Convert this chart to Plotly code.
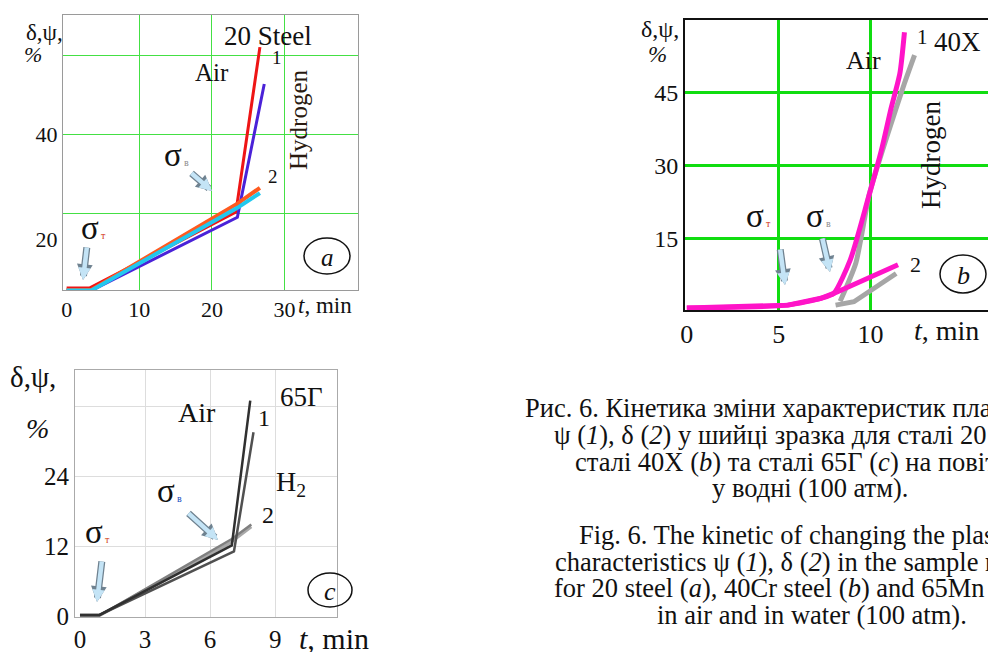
import plotly.graph_objects as go

W, H = 988, 652
SERIF = "Liberation Serif"

# ---------------- data ----------------
# panel a : 20 steel
a_t_psi_air = [0, 3.2, 23.3, 26.6]
a_psi_air = [10.8, 10.8, 25.2, 56.5]
a_t_psi_h2 = [0, 3.4, 23.5, 27.2]
a_psi_h2 = [10.3, 10.3, 24.2, 49.5]
a_t_delta_air = [0, 3.4, 23.5, 26.6]
a_delta_air = [10.4, 10.4, 26.8, 29.8]
a_t_delta_h2 = [0, 3.4, 23.5, 26.6]
a_delta_h2 = [10.3, 10.3, 26.0, 28.8]
a_xticks = [0, 10, 20, 30]
a_yticks = [20, 40]
a_xgrid = [10, 20, 30]
a_ygrid = [25, 40, 55]

# panel b : 40X steel
b_t_psi_air = [0, 5.5, 7.3, 8.0, 8.9, 9.85, 10.6, 11.1, 11.6, 11.85]
b_psi_air = [0.8, 1.4, 2.8, 3.8, 10.7, 23, 33.3, 41.5, 49, 57.5]
b_t_psi_h2 = [8.35, 9.2, 9.95, 10.95, 11.85, 12.4]
b_psi_h2 = [2.2, 10.0, 24.4, 36.7, 47, 52.8]
b_t_delta_air = [0, 5.5, 7.3, 8.0, 11.5]
b_delta_air = [0.8, 1.4, 2.8, 3.8, 9.7]
b_t_delta_h2 = [8.1, 9.1, 11.4]
b_delta_h2 = [1.4, 2.1, 7.9]
b_xticks = [0, 5, 10]
b_yticks = [15, 30, 45]
b_xgrid = [5, 10]

# panel c : 65G steel
c_t_psi_air = [0, 0.9, 7.0, 7.85]
c_psi_air = [0.3, 0.3, 12.2, 37]
c_t_psi_h2 = [0, 0.9, 7.1, 8.0]
c_psi_h2 = [0.3, 0.3, 11.2, 31.6]
c_t_delta_air = [0, 0.9, 7.0, 7.9]
c_delta_air = [0.2, 0.2, 13.3, 15.8]
c_t_delta_h2 = [0, 0.9, 6.9, 7.9]
c_delta_h2 = [0.2, 0.2, 12.6, 15.4]
c_xticks = [0, 3, 6, 9]
c_yticks = [0, 12, 24]
c_xgrid = [3, 6, 9]
c_ygrid = [12, 24, 36]

caption_lines = [
    "Рис. 6. Кінетика зміни характеристик пластичності",
    "ψ (<i>1</i>), δ (<i>2</i>) у шийці зразка для сталі 20 (<i>a</i>),",
    "сталі 40Х (<i>b</i>) та сталі 65Г (<i>c</i>) на повітрі та",
    "у водні (100 атм).",
    "Fig. 6. The kinetic of changing the plasticity",
    "characteristics ψ (<i>1</i>), δ (<i>2</i>) in the sample neck",
    "for 20 steel (<i>a</i>), 40Cr steel (<i>b</i>) and 65Mn steel (<i>c</i>)",
    "in air and in water (100 atm).",
]


def px(x):
    return x / W


def py(y):
    return 1 - y / H


fig = go.Figure()


def line(x, y, xa, ya, color, width, shape="linear"):
    fig.add_trace(go.Scatter(x=x, y=y, xaxis=xa, yaxis=ya, mode="lines",
                             line=dict(color=color, width=width, shape=shape,
                                       smoothing=0.6),
                             showlegend=False, hoverinfo="skip"))


# panel a
line(a_t_psi_air, a_psi_air, "x", "y", "#ee1515", 3)
line(a_t_psi_h2, a_psi_h2, "x", "y", "#4a22d8", 3)
line(a_t_delta_air, a_delta_air, "x", "y", "#ff5a1f", 4)
line(a_t_delta_h2, a_delta_h2, "x", "y", "#22c8ee", 4)
# panel b
line(b_t_psi_h2, b_psi_h2, "x2", "y2", "#a6a6a6", 5, "spline")
line(b_t_delta_h2, b_delta_h2, "x2", "y2", "#a6a6a6", 5)
line(b_t_psi_air, b_psi_air, "x2", "y2", "#ff14c8", 5, "spline")
line(b_t_delta_air, b_delta_air, "x2", "y2", "#ff14c8", 5)
# panel c
line(c_t_delta_h2, c_delta_h2, "x3", "y3", "#a8a8a8", 3)
line(c_t_delta_air, c_delta_air, "x3", "y3", "#808080", 2.5)
line(c_t_psi_h2, c_psi_h2, "x3", "y3", "#505050", 2.5)
line(c_t_psi_air, c_psi_air, "x3", "y3", "#303030", 2.5)


def axis(domain, rng, anchor, ticks, fsize, lcol, lw, mirror, grid, gcol, gw):
    return dict(domain=domain, range=rng, anchor=anchor, tickvals=ticks,
                showgrid=False, zeroline=False, automargin=False,
                showline=True, mirror=mirror, linecolor=lcol, linewidth=lw,
                ticks="", tickfont=dict(family=SERIF, size=fsize, color="#111"),
                minor=dict(tickvals=grid, showgrid=True, gridcolor=gcol,
                           gridwidth=gw, ticklen=0))


fig.update_layout(
    width=W, height=H, margin=dict(l=0, r=0, t=0, b=0, autoexpand=False),
    paper_bgcolor="white", plot_bgcolor="white", showlegend=False,
    xaxis=axis([px(63), px(358)], [-0.5, 40.1], "y", a_xticks, 22,
               "#9a9a9a", 1, True, a_xgrid, "#44e044", 1.2),
    yaxis=axis([py(290), py(15)], [10.4, 62.6], "x", a_yticks, 22,
               "#9a9a9a", 1, True, a_ygrid, "#44e044", 1.2),
    xaxis2=axis([px(685), 1.0], [-0.1, 16.4], "y2", b_xticks, 26,
                "#111", 2, True, b_xgrid, "#10dd10", 2.5),
    yaxis2=axis([py(310), py(20)], [0.4, 60], "x2", b_yticks, 24,
                "#111", 2, False, b_yticks, "#10dd10", 2.5),
    xaxis3=axis([px(75), px(337)], [-0.23, 11.85], "y3", c_xticks, 25,
                "#aaaaaa", 1, True, c_xgrid, "#dddddd", 1),
    yaxis3=axis([py(617), py(370)], [-0.05, 42.25], "x3", c_yticks, 25,
                "#aaaaaa", 1, True, c_ygrid, "#dddddd", 1),
)

ann = []


def text(x, y, s, size, xanchor="center", angle=0, color="#111"):
    ann.append(dict(x=px(x), y=py(y), xref="paper", yref="paper", text=s,
                    showarrow=False, xanchor=xanchor, yanchor="middle",
                    textangle=angle,
                    font=dict(family=SERIF, size=size, color=color)))


def arrow(tx, ty, hx, hy):
    for col, w, s in (("#6f8290", 7, 0.45), ("#c4e4f6", 4.5, 0.55)):
        ann.append(dict(x=px(hx), y=py(hy), xref="paper", yref="paper", text="",
                        showarrow=True, ax=tx - hx, ay=ty - hy, arrowhead=2,
                        arrowsize=s, arrowwidth=w, arrowcolor=col, standoff=0))


def sigma(x, y, sub, subcolor, size=33):
    text(x, y, "σ", size, xanchor="left")
    text(x + 20, y + 7, sub, 10, xanchor="left", color=subcolor)


# panel a texts
text(44, 32, "δ,ψ,", 23)
text(33, 55, "<i>%</i>", 22)
text(296, 306, "<i>t</i>, min", 23, xanchor="left")
text(268, 36, "20 Steel", 27)
text(212, 72, "Air", 25)
text(277, 57, "1", 19)
text(273, 176, "2", 19)
text(298, 120, "Hydrogen", 25, angle=-90, color="#2a1a10")
sigma(162, 155, "в", "#909090")
sigma(79, 228, "т", "#d03010")
arrow(190, 172, 212, 191)
arrow(87, 246, 83, 280)
text(327, 257, "<i>a</i>", 25)

# panel b texts
text(660, 29, "δ,ψ,", 24)
text(657, 55, "<i>%</i>", 23)
text(912, 330, "<i>t</i>, min", 28, xanchor="left")
text(863, 60, "Air", 26)
text(922, 37, "1", 21)
text(932, 42, "40X", 27, xanchor="left")
text(931, 155, "Hydrogen", 27, angle=-90)
text(915, 264, "2", 22)
sigma(744, 216, "т", "#d03010")
sigma(804, 216, "в", "#909090")
arrow(780, 248, 785, 285)
arrow(822, 237, 830, 272)
text(963, 275, "<i>b</i>", 26)

# panel c texts
text(33, 377, "δ,ψ,", 29)
text(37, 428, "<i>%</i>", 28)
text(297, 638, "<i>t</i>, min", 30, xanchor="left")
text(197, 412, "Air", 28)
text(301, 397, "65Г", 27)
text(264, 418, "1", 24)
text(291, 483, "H<sub>2</sub>", 28)
text(268, 515, "2", 24)
sigma(155, 491, "в", "#2050c0")
sigma(83, 532, "т", "#d04010")
arrow(187, 512, 218, 540)
arrow(102, 560, 97, 602)
text(330, 591, "<i>c</i>", 26)

# caption
cap_x = [523, 552, 573, 710, 577, 553, 552, 655]
cap_y = [408, 435, 462, 488, 535, 562, 588, 615]
for s, x, y in zip(caption_lines, cap_x, cap_y):
    text(x, y, s, 26.5, xanchor="left")

fig.update_layout(annotations=ann)

shapes = []
for cx, cy, rx, ry in ((327, 256, 23, 18), (963, 274, 23, 19), (330, 590, 22, 17)):
    shapes.append(dict(type="circle", xref="paper", yref="paper",
                       x0=px(cx - rx), x1=px(cx + rx), y0=py(cy + ry), y1=py(cy - ry),
                       line=dict(color="#111", width=1.5)))
fig.update_layout(shapes=shapes)

fig.write_html("out.html", config={"displayModeBar": False},
               post_script="document.body.style.margin='0';"
                           "document.body.style.overflow='hidden';")
